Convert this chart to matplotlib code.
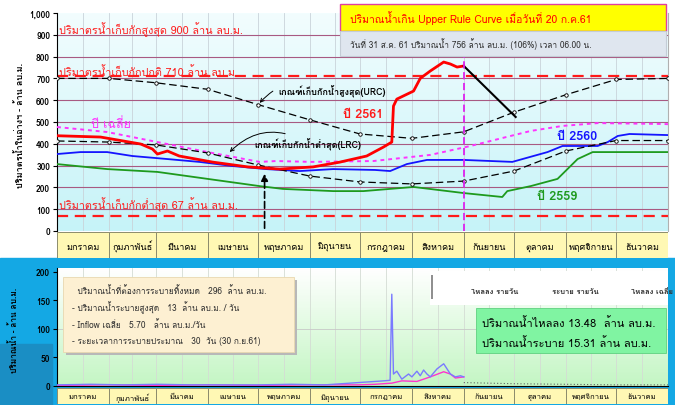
import matplotlib
matplotlib.use('Agg')
import matplotlib.pyplot as plt
import numpy as np
from matplotlib import font_manager, ft2font
from matplotlib.patches import Rectangle
from matplotlib.colors import LinearSegmentedColormap

# find a font that has Thai glyphs
thai = None
for f in font_manager.fontManager.ttflist:
    try:
        if 0x0E01 in ft2font.FT2Font(f.fname).get_charmap():
            thai = f.name
            break
    except Exception:
        pass
plt.rcParams['font.family'] = [thai, 'DejaVu Sans'] if thai else ['DejaVu Sans']

# ---- data ----
month_names = ['มกราคม', 'กุมภาพันธ์', 'มีนาคม', 'เมษายน', 'พฤษภาคม', 'มิถุนายน',
               'กรกฎาคม', 'สิงหาคม', 'กันยายน', 'ตุลาคม', 'พฤศจิกายน', 'ธันวาคม']
month_days = [31, 28, 31, 30, 31, 30, 31, 31, 30, 31, 30, 31]

rc_days = [0, 31, 59, 90, 120, 151, 181, 212, 243, 273, 304, 334, 365]
urc = [700, 700, 680, 650, 580, 510, 445, 425, 455, 545, 625, 695, 700]
lrc = [413, 408, 395, 358, 303, 252, 225, 216, 229, 275, 367, 415, 415]

avg_days = [0, 30, 60, 90, 121, 131, 152, 189, 223, 247, 271, 283, 302, 323, 362, 365]
avg_vals = [477, 454, 408, 362, 317, 321, 317, 321, 349, 390, 436, 459, 482, 495, 491, 490]

y2561_days = [0, 26, 50, 57, 60, 66, 73, 93, 114, 133, 153, 169, 185, 195, 200, 201,
              203, 213, 217, 223, 231, 235, 239, 243]
y2561 = [437, 431, 399, 376, 353, 367, 344, 316, 294, 284, 294, 316, 344, 385, 408, 573,
         605, 642, 700, 734, 775, 766, 752, 757]
fc_days = [243, 274]
fc_vals = [757, 523]

y2560_days = [0, 14, 30, 45, 66, 85, 105, 125, 145, 165, 190, 199, 209, 221, 243, 272,
              293, 302, 323, 329, 335, 342, 365]
y2560 = [353, 362, 362, 344, 330, 317, 298, 284, 275, 284, 280, 275, 307, 326, 326, 317,
         362, 390, 390, 408, 436, 445, 440]

y2559_days = [0, 30, 60, 90, 121, 135, 165, 183, 213, 243, 266, 269, 283, 299, 311, 320, 365]
y2559 = [307, 284, 271, 239, 206, 193, 183, 183, 202, 174, 156, 183, 206, 239, 330, 362, 362]

in_days = [0, 20, 40, 60, 80, 100, 120, 140, 160, 175, 185, 195, 199, 200, 201, 203, 206,
           210, 212, 215, 217, 219, 221, 223, 227, 231, 235, 238, 241, 243]
inflow = [2, 3, 2, 3, 2, 2, 2, 3, 2, 5, 7, 9, 10, 161, 21, 26, 12,
          21, 16, 26, 18, 28, 21, 16, 30, 39, 21, 16, 18, 16]
out_days = [0, 30, 60, 90, 120, 150, 180, 190, 200, 206, 215, 223, 231, 235, 238, 243]
outflow = [1, 2, 1, 2, 1, 2, 2, 3, 5, 9, 8, 16, 25, 21, 14, 16]
avg_in_days = [243, 273, 304, 334, 365]
avg_in = [6, 4, 3, 2, 2]

W, H = 675, 406
fig = plt.figure(figsize=(W / 100, H / 100), dpi=100)


def rect(x0, y0, x1, y1):
    return [x0 / W, 1 - y1 / H, (x1 - x0) / W, (y1 - y0) / H]


starts = np.cumsum([0] + month_days[:-1])
mids = starts + np.array(month_days) / 2

# blue frame behind the lower chart
fig.patches.append(Rectangle((0, 0), 1, (H - 259) / H, transform=fig.transFigure,
                             color='#14a8e4', zorder=-10))
fig.patches.append(Rectangle((0, 0), 52 / W, (H - 345) / H, transform=fig.transFigure,
                             color='#1a8ec4', zorder=-9))

# ---- top chart ----
ax = fig.add_axes(rect(57, 14, 668, 232))
ax.set_xlim(0, 365)
ax.set_ylim(0, 1000)
cm = LinearSegmentedColormap.from_list('c', ['#c6f3f8', '#f2fdfe'])
ax.imshow(np.linspace(0, 1, 100).reshape(-1, 1), extent=[0, 365, 0, 1000], aspect='auto',
          cmap=cm, origin='lower', zorder=0)
for x in list(starts) + list(mids):
    ax.axvline(x, color='#c9d3da', lw=0.6, zorder=1)
for v in range(100, 1000, 100):
    ax.axhline(v, color='#a85a82', lw=0.8, zorder=1)
ax.axhline(710, color='#ff1a1a', ls=(0, (5, 3)), lw=1.6, zorder=2)
ax.axhline(67, color='#ff1a1a', ls=(0, (5, 3)), lw=1.6, zorder=2)

ax.plot(rc_days, urc, color='black', ls=(0, (6, 3)), lw=0.9, marker='o', ms=2.5,
        mfc='white', mec='black', mew=0.6, zorder=4)
ax.plot(rc_days, lrc, color='black', ls=(0, (6, 3)), lw=0.9, marker='o', ms=2.5,
        mfc='white', mec='black', mew=0.6, zorder=4)
ax.plot(avg_days, avg_vals, color='#ff33ff', ls=(0, (2, 2)), lw=1.4, zorder=3)
ax.plot(y2559_days, y2559, color='#1e9a1e', lw=1.3, zorder=3)
ax.plot(y2560_days, y2560, color='#1414ff', lw=1.3, zorder=3)
ax.plot(y2561_days, y2561, color='#ff0000', lw=2, zorder=5)
ax.plot(fc_days, fc_vals, color='black', lw=1.5, zorder=5)

ax.axvline(243, color='#dd22ee', ls=(0, (4, 2)), lw=1.3, zorder=6)
ax.annotate('', xy=(124, 275), xytext=(124, 0),
            arrowprops=dict(arrowstyle='-|>', ls=(0, (4, 2)), lw=1.2, color='black'), zorder=6)

red = '#ff1a1a'
ax.text(1, 906, 'ปริมาตรน้ำเก็บกักสูงสุด 900 ล้าน ลบ.ม.', color=red, fontsize=7.8, va='baseline', zorder=7)
ax.text(1, 716, 'ปริมาตรน้ำเก็บกักปกติ 710 ล้าน ลบ.ม.', color=red, fontsize=7.8, va='baseline', zorder=7)
ax.text(1, 104, 'ปริมาตรน้ำเก็บกักต่ำสุด 67 ล้าน ลบ.ม.', color=red, fontsize=7.8, va='baseline', zorder=7)
ax.text(32, 495, 'ปี เฉลี่ย', color='#ff33ff', fontsize=9, ha='center', va='center', zorder=7)
ax.text(183, 537, 'ปี 2561', color=red, fontsize=9, fontweight='bold', ha='center', va='center', zorder=7)
ax.text(311, 436, 'ปี 2560', color='#1414ff', fontsize=9, fontweight='bold', ha='center', va='center', zorder=7)
ax.text(299, 161, 'ปี 2559', color='#1e9a1e', fontsize=9, fontweight='bold', ha='center', va='center', zorder=7)
ax.annotate('เกณฑ์เก็บกักน้ำสูงสุด(URC)', xy=(120, 578), xytext=(132, 645), fontsize=6.5,
            fontweight='bold', va='center', zorder=7,
            arrowprops=dict(arrowstyle='->', connectionstyle='arc3,rad=0.4', lw=0.7, color='black'))
ax.annotate('เกณฑ์เก็บกักน้ำต่ำสุด(LRC)', xy=(102, 353), xytext=(118, 402), fontsize=6.5,
            fontweight='bold', va='center', zorder=7,
            arrowprops=dict(arrowstyle='->', connectionstyle='arc3,rad=0.4', lw=0.7, color='black'))

ax.set_xticks([])
ax.set_yticks(range(0, 1001, 100))
ax.set_yticklabels([f'{v:,}' for v in range(0, 1001, 100)], fontsize=6, fontweight='bold')
ax.tick_params(axis='y', length=3, pad=2)
ax.spines['top'].set_visible(False)
ax.spines['right'].set_color('#b0b0b0')
ax.spines['bottom'].set_visible(False)
fig.text(20 / W, 1 - 125 / H, 'ปริมาตรน้ำในอ่างฯ - ล้าน ลบ.ม.', rotation=90, fontsize=6.5,
         fontweight='bold', ha='center', va='center')


# months under each chart
def month_band(y0, y1, fs):
    am = fig.add_axes(rect(57, y0, 668, y1))
    am.set_xlim(0, 365)
    am.set_ylim(0, 1)
    for s, d, n in zip(starts, month_days, month_names):
        am.add_patch(Rectangle((s, 0), d, 1, fc='#fff8b4', ec='#8c8c6c', lw=0.7))
        am.text(s + d / 2, 0.45, n, fontsize=fs, ha='center', va='center')
    am.axis('off')


month_band(233, 259, 6.5)

# info boxes on top
fig.add_artist(Rectangle((340 / W, 1 - 32 / H), 326 / W, 27 / H, transform=fig.transFigure,
                         fc='#ffff00', ec='#e040a0', lw=1, zorder=20))
fig.text(350 / W, 1 - 18.5 / H, 'ปริมาณน้ำเกิน Upper Rule Curve เมื่อวันที่ 20 ก.ค.61', color='#ff0000',
         fontsize=7.5, va='center', zorder=21)
fig.add_artist(Rectangle((340 / W, 1 - 57 / H), 326 / W, 25 / H, transform=fig.transFigure,
                         fc='#dfe6ef', ec='#c4ccd6', lw=0.8, zorder=20))
fig.text(350 / W, 1 - 44.5 / H, 'วันที่ 31 ส.ค. 61 ปริมาณน้ำ 756 ล้าน ลบ.ม. (106%) เวลา 06.00 น.',
         color='#303030', fontsize=6, va='center', zorder=21)

# ---- bottom chart ----
axb = fig.add_axes(rect(57, 269, 668, 387))
axb.set_xlim(0, 365)
axb.set_ylim(0, 207)
cmg = LinearSegmentedColormap.from_list('g', ['#c4f6c4', '#ffffff'])
axb.imshow(np.linspace(0, 1, 100).reshape(-1, 1), extent=[0, 365, 0, 207], aspect='auto',
           cmap=cmg, origin='lower', zorder=0)
for x in list(starts) + list(mids):
    axb.axvline(x, color='#d4dcd4', lw=0.6, zorder=1)
axb.axhline(100, color='#c8c8c8', lw=0.6, zorder=1)
axb.plot(out_days, outflow, color='#ff33cc', lw=1, zorder=3)
axb.plot(in_days, inflow, color='#7a7aff', lw=1, zorder=4)
axb.plot(avg_in_days, avg_in, color='#606060', ls=(0, (1, 2)), lw=0.8, zorder=3)
axb.set_xticks([])
axb.set_yticks(range(0, 201, 50))
axb.set_yticklabels([str(v) for v in range(0, 201, 50)], fontsize=6, fontweight='bold')
axb.tick_params(axis='y', length=3, pad=2)
axb.spines['top'].set_visible(False)
axb.spines['right'].set_visible(False)
fig.text(14 / W, 1 - 330 / H, 'ปริมาณน้ำ - ล้าน ลบ.ม.', rotation=90, fontsize=6,
         fontweight='bold', ha='center', va='center')

month_band(389, 405, 5.5)

# legend strip
fig.add_artist(Rectangle((430 / W, 1 - 306 / H), 238 / W, 34 / H, transform=fig.transFigure,
                         fc='white', ec='none', zorder=20))
fig.add_artist(Rectangle((431 / W, 1 - 300 / H), 2.5 / W, 24 / H, transform=fig.transFigure,
                         fc='#909090', ec='none', zorder=21))
for x, t in [(495, 'ไหลลง รายวัน'), (575, 'ระบาย รายวัน'), (652, 'ไหลลง เฉลี่ย')]:
    fig.text(x / W, 1 - 292 / H, t, fontsize=5.5, fontweight='bold', ha='center', va='center',
             color='#303030', zorder=22)

# cream note box
fig.add_artist(Rectangle((66 / W, 1 - 356 / H), 231 / W, 75 / H, transform=fig.transFigure,
                         fc='#b8b8b8', ec='none', zorder=20))
fig.add_artist(Rectangle((63 / W, 1 - 353 / H), 231 / W, 75 / H, transform=fig.transFigure,
                         fc='#fdf0d2', ec='#e8d8b0', lw=0.6, zorder=21))
notes = ['  ปริมาณน้ำที่ต้องการระบายทิ้งหมด   296  ล้าน ลบ.ม.',
         '- ปริมาณน้ำระบายสูงสุด   13  ล้าน ลบ.ม. / วัน',
         '- Inflow เฉลี่ย   5.70   ล้าน ลบ.ม./วัน',
         '- ระยะเวลาการระบายประมาณ   30  วัน (30 ก.ย.61)']
for i, t in enumerate(notes):
    fig.text(72 / W, 1 - (291 + i * 17) / H, t, fontsize=6, va='center', color='#303030', zorder=22)

# green summary box
fig.add_artist(Rectangle((476 / W, 1 - 354 / H), 190 / W, 45 / H, transform=fig.transFigure,
                         fc='#80f4a2', ec='#60d080', lw=0.6, zorder=21))
fig.text(482 / W, 1 - 323 / H, 'ปริมาณน้ำไหลลง 13.48  ล้าน ลบ.ม.', fontsize=8, va='center', zorder=22)
fig.text(482 / W, 1 - 343 / H, 'ปริมาณน้ำระบาย 15.31 ล้าน ลบ.ม.', fontsize=8, va='center', zorder=22)

fig.savefig('out.png', dpi=100)
